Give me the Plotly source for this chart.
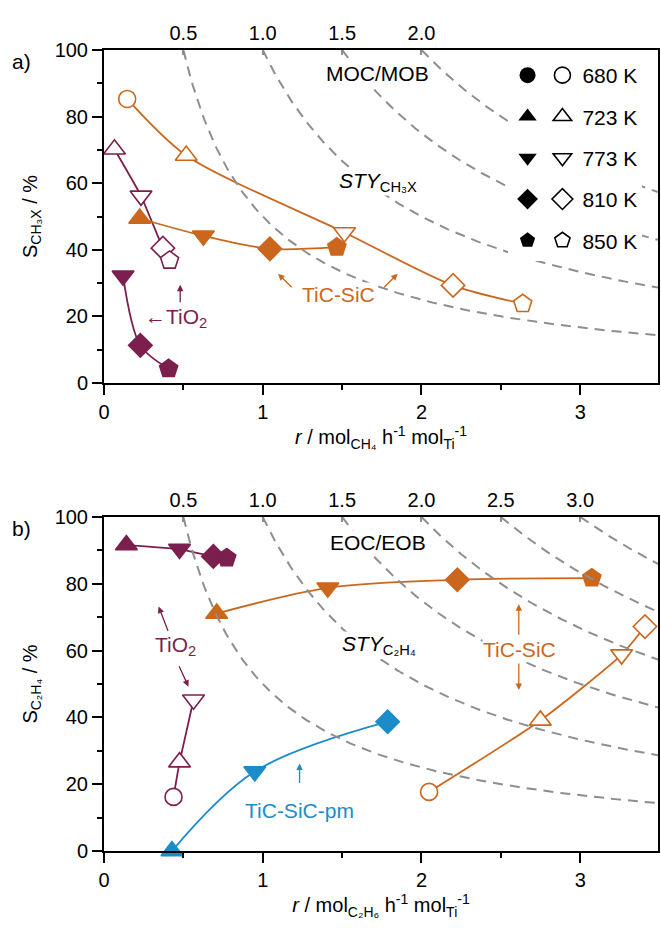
import numpy as np
import plotly.graph_objects as go

# ---------------- data ----------------
temps = [680, 723, 773, 810, 850]
temp_labels = ["680 K", "723 K", "773 K", "810 K", "850 K"]

# panel a : CH4 oxidative chlorination/bromination
a_tio2_open_T = [723, 773, 810, 850]
a_tio2_open_r = [0.066, 0.233, 0.371, 0.413]
a_tio2_open_S = [70.2, 56.2, 40.5, 36.8]
a_tio2_fill_T = [773, 810, 850]
a_tio2_fill_r = [0.12, 0.229, 0.407]
a_tio2_fill_S = [32.2, 11.3, 4.3]
a_tic_open_T = [680, 723, 773, 810, 850]
a_tic_open_r = [0.146, 0.518, 1.515, 2.199, 2.638]
a_tic_open_S = [85.3, 68.3, 45.2, 29.3, 23.8]
a_tic_fill_T = [723, 773, 810, 850]
a_tic_fill_r = [0.225, 0.626, 1.045, 1.467]
a_tic_fill_S = [49.4, 44.2, 40.3, 40.8]
sty_a = [0.5, 1.0, 1.5, 2.0]

# panel b : C2H6 oxidative chlorination/bromination
b_tio2_fill_T = [723, 773, 810, 850]
b_tio2_fill_r = [0.141, 0.476, 0.689, 0.773]
b_tio2_fill_S = [91.6, 90.4, 88.2, 87.7]
b_tio2_open_T = [680, 723, 773]
b_tio2_open_r = [0.438, 0.476, 0.564]
b_tio2_open_S = [16.2, 26.6, 45.3]
b_tic_fill_T = [723, 773, 810, 850]
b_tic_fill_r = [0.71, 1.41, 2.226, 3.073]
b_tic_fill_S = [71.1, 78.8, 81.2, 81.7]
b_tic_open_T = [680, 723, 773, 810]
b_tic_open_r = [2.048, 2.749, 3.261, 3.408]
b_tic_open_S = [17.7, 39.1, 58.8, 67.2]
b_pm_fill_T = [723, 773, 810]
b_pm_fill_r = [0.428, 0.95, 1.787]
b_pm_fill_S = [0.0, 23.8, 38.7]
sty_b = [0.5, 1.0, 1.5, 2.0, 2.5, 3.0]

# ---------------- style ----------------
SYMB = {680: "circle", 723: "triangle-up", 773: "triangle-down", 810: "diamond", 850: "pentagon"}
SIZE = {680: 17, 723: 19, 773: 19, 810: 18, 850: 19}
MAROON = "#7B1F4E"
ORANGE = "#CB671D"
BLUE = "#1C8CC9"
GREY = "#8E8E8E"
FONT = "Arial, Liberation Sans, sans-serif"
FS = 20
FL = 21
XMAX = 3.49

fig = go.Figure()


def sty_curves(sty, xref, yref):
    for v in sty:
        r = np.linspace(v, XMAX, 200)
        fig.add_trace(go.Scatter(x=r, y=100.0 * v / r, mode="lines", xaxis=xref, yaxis=yref,
                                 line=dict(color=GREY, width=2, dash="10px,7px"),
                                 showlegend=False, hoverinfo="skip"))


def series(T, r, S, color, filled, xref, yref, smooth=0.6):
    fig.add_trace(go.Scatter(
        x=r, y=S, mode="lines+markers", xaxis=xref, yaxis=yref,
        line=dict(color=color, width=1.8, shape="spline", smoothing=smooth),
        marker=dict(symbol=[SYMB[t] for t in T], size=[SIZE[t] for t in T],
                    color=color if filled else "white", opacity=1,
                    line=dict(color=color, width=1.6)),
        cliponaxis=False, showlegend=False))


sty_curves(sty_a, "x2", "y")
sty_curves(sty_b, "x4", "y3")

series(a_tio2_open_T, a_tio2_open_r, a_tio2_open_S, MAROON, False, "x", "y", 0.4)
series(a_tio2_fill_T, a_tio2_fill_r, a_tio2_fill_S, MAROON, True, "x", "y", 0.9)
series(a_tic_open_T, a_tic_open_r, a_tic_open_S, ORANGE, False, "x", "y", 0.8)
series(a_tic_fill_T, a_tic_fill_r, a_tic_fill_S, ORANGE, True, "x", "y", 0.8)

series(b_tio2_fill_T, b_tio2_fill_r, b_tio2_fill_S, MAROON, True, "x3", "y3", 0.2)
series(b_tio2_open_T, b_tio2_open_r, b_tio2_open_S, MAROON, False, "x3", "y3", 0.3)
series(b_tic_fill_T, b_tic_fill_r, b_tic_fill_S, ORANGE, True, "x3", "y3", 0.9)
series(b_tic_open_T, b_tic_open_r, b_tic_open_S, ORANGE, False, "x3", "y3", 0.6)
series(b_pm_fill_T, b_pm_fill_r, b_pm_fill_S, BLUE, True, "x3", "y3", 1.0)

# legend entries (filled in legend, open + label in legend2)
for T, lab in zip(temps, temp_labels):
    fig.add_trace(go.Scatter(x=[None], y=[None], mode="markers", name="",
                             marker=dict(symbol=SYMB[T], size=16, color="black"),
                             legend="legend", legendgroup="f%d" % T, showlegend=True))
    fig.add_trace(go.Scatter(x=[None], y=[None], mode="markers", name=lab,
                             marker=dict(symbol=SYMB[T], size=16, color="white",
                                         line=dict(color="black", width=1.6)),
                             legend="legend2", legendgroup="o%d" % T, showlegend=True))

# ---------------- axes ----------------
def bottom_x(title, anchor):
    return dict(range=[0, XMAX], anchor=anchor, domain=[0, 1], showline=True, linewidth=2,
                linecolor="black", ticks="outside", ticklen=10, tickwidth=2, tickcolor="black",
                tickvals=[0, 1, 2, 3], showgrid=False, zeroline=False,
                minor=dict(dtick=0.5, tick0=0, ticks="outside", ticklen=5, tickwidth=2,
                           tickcolor="black", showgrid=False),
                tickfont=dict(size=FS, color="black"),
                title=dict(text=title, font=dict(size=FS, color="black"), standoff=8))


def top_x(over, anchor, vals):
    return dict(range=[0, XMAX], overlaying=over, anchor=anchor, side="top", showline=True,
                linewidth=2, linecolor="black", ticks="inside", ticklen=5, tickwidth=1.5,
                tickcolor=GREY, tickvals=vals, ticktext=["%.1f" % v for v in vals],
                showgrid=False, zeroline=False, tickfont=dict(size=FS, color="black"))


def left_y(title, anchor, dom):
    return dict(range=[0, 100], anchor=anchor, domain=dom, showline=True, linewidth=2,
                linecolor="black", mirror=True, ticks="outside", ticklen=10, tickwidth=2,
                tickcolor="black", tickvals=[0, 20, 40, 60, 80, 100], showgrid=False,
                zeroline=False,
                minor=dict(dtick=10, tick0=0, ticks="outside", ticklen=5, tickwidth=2,
                           tickcolor="black", showgrid=False),
                tickfont=dict(size=FS, color="black"),
                title=dict(text=title, font=dict(size=FS, color="black"), standoff=12))


H, MT, MB = 928, 50, 77
PH = H - MT - MB


def frac(py):
    return (H - MB - py) / PH


fig.update_layout(
    width=661, height=928, margin=dict(l=104, r=1, t=MT, b=MB),
    plot_bgcolor="white", paper_bgcolor="white",
    font=dict(family=FONT, size=FS, color="black"),
    xaxis=bottom_x("<i>r</i> / mol<sub>CH₄</sub> h<sup>-1</sup> mol<sub>Ti</sub><sup>-1</sup>", "y"),
    xaxis2=top_x("x", "y", sty_a),
    yaxis=left_y("S<sub>CH₃X</sub> / %", "x", [frac(383), 1]),
    xaxis3=bottom_x("<i>r</i> / mol<sub>C₂H₆</sub> h<sup>-1</sup> mol<sub>Ti</sub><sup>-1</sup>", "y3"),
    xaxis4=top_x("x3", "y3", sty_b),
    yaxis3=left_y("S<sub>C₂H₄</sub> / %", "x3", [0, frac(517)]),
    legend=dict(x=(509 - 104) / 556, y=frac(55), xanchor="left", yanchor="top",
                bgcolor="white", borderwidth=0, font=dict(size=FL), tracegroupgap=11,
                itemwidth=30, traceorder="grouped"),
    legend2=dict(x=(544 - 104) / 556, y=frac(55), xanchor="left", yanchor="top",
                 bgcolor="white", borderwidth=0, font=dict(size=FL), tracegroupgap=11,
                 itemwidth=30, traceorder="grouped"),
)

# ---------------- annotations ----------------
ann = []


def text(t, x, y, color, xr, yr, bg="white"):
    ann.append(dict(text=t, x=x, y=y, xref=xr, yref=yr, showarrow=False,
                    font=dict(size=FL, color=color, family=FONT), bgcolor=bg,
                    borderpad=0, xanchor="center", yanchor="middle"))


def arrow(x, y, ax, ay, color, xr, yr):
    ann.append(dict(text="", x=x, y=y, xref=xr, yref=yr, ax=ax, ay=ay, showarrow=True,
                    arrowhead=2, arrowsize=1, arrowwidth=1.3, arrowcolor=color, standoff=0))


text("MOC/MOB", 1.725, 92.9, "black", "x", "y")
text("<i>STY</i><sub>CH₃X</sub>", 1.728, 60.5, "black", "x", "y")
text("←TiO<sub>2</sub>", 0.455, 19.4, MAROON, "x", "y")
text("TiC-SiC", 1.477, 26.6, ORANGE, "x", "y")
arrow(0.48, 29.5, 0, 19, MAROON, "x", "y")
arrow(1.097, 32.8, 15, 15, ORANGE, "x", "y")
arrow(1.85, 32.8, -15, 15, ORANGE, "x", "y")

text("EOC/EOB", 1.728, 92.3, "black", "x3", "y3")
text("<i>STY</i><sub>C₂H₄</sub>", 1.735, 61.7, "black", "x3", "y3")
text("TiO<sub>2</sub>", 0.449, 61.4, MAROON, "x3", "y3")
text("TiC-SiC-pm", 1.232, 12.2, BLUE, "x3", "y3")
text("TiC-SiC", 2.619, 60.2, ORANGE, "x3", "y3")
arrow(0.344, 73.2, 10, 26, MAROON, "x3", "y3")
arrow(0.532, 49.2, -10, -22, MAROON, "x3", "y3")
arrow(1.232, 26.2, 0, 21, BLUE, "x3", "y3")
arrow(2.613, 73.9, 0, 32, ORANGE, "x3", "y3")
arrow(2.613, 48.2, 0, -28, ORANGE, "x3", "y3")

ann.append(dict(text="a)", x=(21 - 104) / 556, y=frac(61), xref="paper", yref="paper",
                showarrow=False, font=dict(size=FL, color="black"), xanchor="center", yanchor="middle"))
ann.append(dict(text="b)", x=(21 - 104) / 556, y=frac(528), xref="paper", yref="paper",
                showarrow=False, font=dict(size=FL, color="black"), xanchor="center", yanchor="middle"))

fig.update_layout(annotations=ann)
fig.write_html("out.html")
